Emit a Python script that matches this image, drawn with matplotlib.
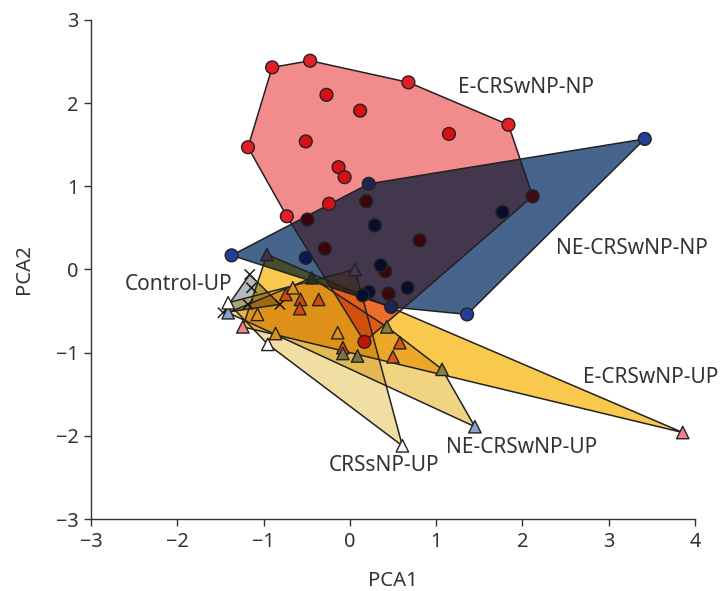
import numpy as np
import matplotlib
matplotlib.use('Agg')
import matplotlib.pyplot as plt
from matplotlib.patches import Polygon
from matplotlib.colors import to_rgb
from itertools import combinations

plt.rcParams['font.family'] = ['Noto Sans', 'DejaVu Sans']

# ---------------- data ----------------
e_np_x = [-1.18, -0.90, -0.46, -0.27, 0.12, 0.68, 1.15, 1.84, -0.51, -0.13, -0.06,
          -0.73, -0.24, 2.12, 0.17, -0.29, 0.81, -0.49, 0.19, 0.41, 0.45]
e_np_y = [1.47, 2.43, 2.51, 2.10, 1.91, 2.25, 1.63, 1.74, 1.54, 1.23, 1.11,
          0.64, 0.79, 0.88, -0.87, 0.25, 0.35, 0.60, 0.82, -0.02, -0.29]

ne_np_x = [3.42, -1.37, -0.51, 0.22, 0.29, 1.77, 0.36, 0.22, 0.15, 0.67, 0.48, 1.36]
ne_np_y = [1.57, 0.17, 0.14, 1.03, 0.53, 0.69, 0.05, -0.27, -0.31, -0.22, -0.45, -0.54]

ctrl_x = [-1.16, -1.14, -1.18, -0.81, -1.47]
ctrl_y = [-0.06, -0.22, -0.42, -0.42, -0.52]

e_up_x = [-0.96, -0.74, -0.57, -0.58, -0.36, -0.08, 0.58, 0.50, -1.24, 3.86]
e_up_y = [0.18, -0.30, -0.36, -0.47, -0.36, -0.94, -0.88, -1.05, -0.69, -1.96]

ne_up_x = [-1.41, -0.44, 0.43, 1.07, 1.45, -0.08, 0.09]
ne_up_y = [-0.52, -0.10, -0.69, -1.20, -1.89, -1.01, -1.04]

crs_x = [0.06, -1.41, -1.07, -0.86, -0.95, -0.14, 0.61, -0.66]
crs_y = [0.00, -0.40, -0.54, -0.77, -0.90, -0.76, -2.12, -0.22]

group_names = ['E-CRSwNP-NP', 'NE-CRSwNP-NP', 'Control-UP',
               'E-CRSwNP-UP', 'NE-CRSwNP-UP', 'CRSsNP-UP']
group_x = [e_np_x, ne_np_x, ctrl_x, e_up_x, ne_up_x, crs_x]
group_y = [e_np_y, ne_np_y, ctrl_y, e_up_y, ne_up_y, crs_y]

label_x = [1.26, 2.39, -2.61, 2.70, 1.11, -0.24]
label_y = [2.19, 0.25, -0.18, -1.30, -2.14, -2.36]

# ---------------- style ----------------
markers = ['o', 'o', 'x', '^', '^', '^']
marker_sizes = [85, 85, 55, 80, 80, 80]
marker_colors = ['#e41e24', '#223e96', '#222222', '#f0828f', '#88a2ca', '#ffffff']
hull_colors = ['#f28b8b', '#46648c', '#b5babf', '#f9c94e', '#f1d482', '#f1dea2']
edge_col = '#222222'


def convex_hull(pts):
    pts = sorted(set(map(tuple, pts)))
    if len(pts) <= 2:
        return pts

    def cross(o, a, b):
        return (a[0] - o[0]) * (b[1] - o[1]) - (a[1] - o[1]) * (b[0] - o[0])
    lower, upper = [], []
    for p in pts:
        while len(lower) >= 2 and cross(lower[-2], lower[-1], p) <= 0:
            lower.pop()
        lower.append(p)
    for p in reversed(pts):
        while len(upper) >= 2 and cross(upper[-2], upper[-1], p) <= 0:
            upper.pop()
        upper.append(p)
    return lower[:-1] + upper[:-1]  # CCW


def clip(subject, clipper):
    out = list(subject)
    n = len(clipper)
    for i in range(n):
        a, b = clipper[i], clipper[(i + 1) % n]
        inp = out
        out = []
        if not inp:
            break

        def side(p):
            return (b[0] - a[0]) * (p[1] - a[1]) - (b[1] - a[1]) * (p[0] - a[0])

        def inter(p, q):
            sp, sq = side(p), side(q)
            t = sp / (sp - sq)
            return (p[0] + t * (q[0] - p[0]), p[1] + t * (q[1] - p[1]))
        for j in range(len(inp)):
            p, q = inp[j], inp[(j + 1) % len(inp)]
            sp, sq = side(p), side(q)
            if sp >= 0:
                out.append(p)
                if sq < 0:
                    out.append(inter(p, q))
            elif sq >= 0:
                out.append(inter(p, q))
    return out


def area(poly):
    if len(poly) < 3:
        return 0.0
    a = 0.0
    for i in range(len(poly)):
        x1, y1 = poly[i]
        x2, y2 = poly[(i + 1) % len(poly)]
        a += x1 * y2 - x2 * y1
    return abs(a) / 2


def strictly_inside(p, poly, eps=1e-6):
    n = len(poly)
    for i in range(n):
        a, b = poly[i], poly[(i + 1) % n]
        if (b[0] - a[0]) * (p[1] - a[1]) - (b[1] - a[1]) * (p[0] - a[0]) <= eps:
            return False
    return True


hulls = [convex_hull(list(zip(gx, gy))) for gx, gy in zip(group_x, group_y)]
hull_rgb = [np.array(to_rgb(c)) for c in hull_colors]

fig = plt.figure(figsize=(7.2, 5.91), dpi=100)
ax = fig.add_axes([0.1264, 0.1218, 0.8386, 0.8444])

# multiply-blended hull fills: draw every non-empty intersection, by subset size
n = len(hulls)
for k in range(1, n + 1):
    for combo in combinations(range(n), k):
        poly = hulls[combo[0]]
        for idx in combo[1:]:
            poly = clip(poly, hulls[idx])
            if len(poly) < 3:
                break
        if len(poly) < 3 or area(poly) < 1e-6:
            continue
        col = np.ones(3)
        for idx in combo:
            col = col * hull_rgb[idx]
        ax.add_patch(Polygon(poly, closed=True, facecolor=col, edgecolor='none',
                             linewidth=0, zorder=1 + 0.01 * k))

# hull outlines
for h in hulls:
    ax.add_patch(Polygon(h, closed=True, facecolor='none', edgecolor=edge_col,
                         linewidth=1.1, zorder=2))

# points, tinted by hulls lying over them
for g in range(n):
    fcs = []
    for px, py in zip(group_x[g], group_y[g]):
        col = np.array(to_rgb(marker_colors[g]))
        for h, hc in zip(hulls, hull_rgb):
            if strictly_inside((px, py), h):
                col = col * hc
        fcs.append(col)
    if markers[g] == 'x':
        ax.scatter(group_x[g], group_y[g], marker='x', s=marker_sizes[g],
                   c=fcs, linewidths=1.1, zorder=3)
    else:
        ax.scatter(group_x[g], group_y[g], marker=markers[g], s=marker_sizes[g],
                   c=fcs, edgecolors=edge_col, linewidths=1.0, zorder=3)

for name, lx, ly in zip(group_names, label_x, label_y):
    ax.text(lx, ly, name, ha='left', va='center', fontsize=15, color='#333333',
            zorder=5)

ax.set_xlim(-3, 4)
ax.set_ylim(-3, 3)
ax.set_xticks(range(-3, 5))
ax.set_yticks(range(-3, 4))
ax.spines['top'].set_visible(False)
ax.spines['right'].set_visible(False)
for s in ['left', 'bottom']:
    ax.spines[s].set_color('#333333')
    ax.spines[s].set_linewidth(1.0)
ax.tick_params(axis='both', direction='out', length=5, width=1.0, colors='#333333',
               labelsize=14.3, labelcolor='#333333', pad=4)
ax.set_xlabel('PCA1', fontsize=14.6, color='#333333', labelpad=14)
ax.set_ylabel('PCA2', fontsize=14.6, color='#333333', labelpad=16)

fig.savefig('out.png', dpi=100)
